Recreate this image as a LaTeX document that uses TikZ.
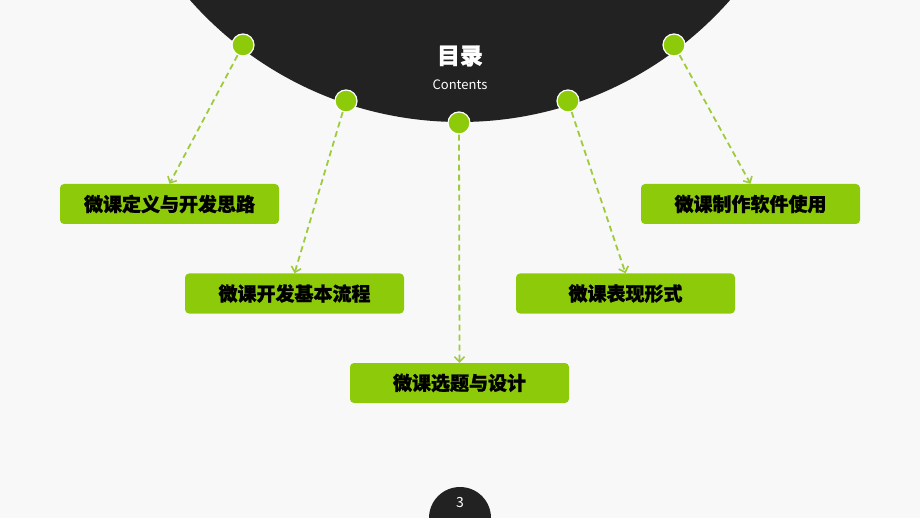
\documentclass[tikz,border=0pt]{standalone}
\usepackage{fontspec}
\setmainfont{Noto Sans CJK SC}[BoldFeatures={FakeBold=1.2}]
\usepackage{tikz}
\usetikzlibrary{arrows.meta}
\definecolor{bgpage}{HTML}{F8F8F8}
\definecolor{darkdisc}{HTML}{222222}
\definecolor{leaf}{HTML}{8DCB0A}
\definecolor{leafline}{HTML}{9DCB3C}
\tikzset{
  dot/.style={circle, fill=leaf, draw=white, line width=1.2pt, minimum size=22pt, inner sep=0pt},
  topic/.style={rounded corners=4pt, fill=leaf, minimum width=219pt, minimum height=40pt, font=\fontsize{19}{19}\selectfont\bfseries},
  link/.style={draw=leafline, dash pattern=on 6pt off 4pt, line width=1.8pt, -{Straight Barb[length=5pt,width=10pt,line width=1.6pt]}}
}
\begin{document}
\begin{tikzpicture}[x=1pt, y=-1pt]
        \useasboundingbox (0,0) rectangle (920,518);
        \fill[bgpage] (0,0) rectangle (920,518);
        \clip (0,0) rectangle (920,518);
        \fill[darkdisc] (460,-238) circle (360);
        \node[text=white, font=\fontsize{23}{23}\selectfont\bfseries] (title) at (460,56) {目录};
        \node[text=white, font=\fontsize{13}{13}\selectfont] (sub) at (460,85) {Contents};
        \node[topic] (b1) at (169.5,204) {微课定义与开发思路};
        \node[topic] (b2) at (294.5,293.5) {微课开发基本流程};
        \node[topic] (b3) at (459.5,383) {微课选题与设计};
        \node[topic] (b4) at (625.5,293.5) {微课表现形式};
        \node[topic] (b5) at (750.5,204) {微课制作软件使用};
        \node[dot] (d1) at (243,45) {};
        \node[dot] (d2) at (346,101) {};
        \node[dot] (d3) at (459,123) {};
        \node[dot] (d4) at (568,101) {};
        \node[dot] (d5) at (674,45) {};
        \draw[link] (d1) -- (b1.north);
        \draw[link] (d2) -- (b2.north);
        \draw[link] (d3) -- (b3.north);
        \draw[link] (d4) -- (b4.north);
        \draw[link] (d5) -- (b5.north);
        \fill[darkdisc] (460,518) circle (31);
        \node[text=white, font=\fontsize{14}{14}\selectfont] (page) at (460,503) {3};
      \end{tikzpicture}
\end{document}
